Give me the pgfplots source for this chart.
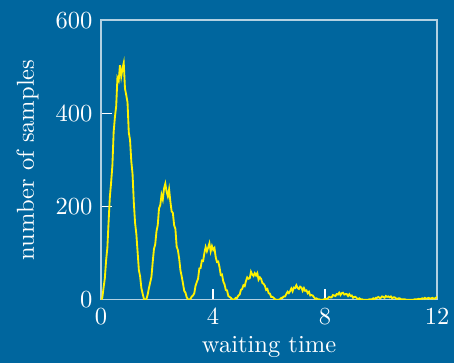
\documentclass[border=0pt]{standalone}
\usepackage{pgfplots}
\pgfplotsset{compat=1.18}
\usetikzlibrary{backgrounds}
\definecolor{bgblue}{RGB}{0,102,158}
\begin{document}
\begin{tikzpicture}
\begin{axis}[name=ax, scale only axis, width=137pt, height=114pt,
 xmin=0,xmax=12,ymin=0,ymax=600,
 xtick={0,4,8,12}, ytick={0,200,400,600},
 xtick pos=bottom, ytick pos=left,
 axis line style={white!70!bgblue, line width=0.6pt},
 major tick style={white, line width=0.6pt},
 tick label style={white},
 label style={white},
 xlabel={waiting time}, ylabel={number of samples},
 xlabel style={yshift=2pt},
]
\addplot[yellow, line width=0.75pt] coordinates {
(0,0) (0.045,4) (0.09,26) (0.135,46) (0.18,84) (0.225,111) (0.27,168) (0.315,221) (0.36,252) (0.405,288) (0.45,360) (0.495,392) (0.54,415) (0.585,476) (0.63,470) (0.675,503) (0.72,479) (0.765,496) (0.81,508) (0.855,453) (0.9,439) (0.945,424) (0.99,359) (1.035,343) (1.08,297) (1.125,270) (1.17,209) (1.215,165) (1.26,141) (1.305,103) (1.35,64) (1.395,50) (1.44,25) (1.485,13) (1.53,2)
(1.575,0) (1.62,1) (1.665,11) (1.71,25) (1.755,37) (1.8,49) (1.845,81) (1.89,109) (1.935,119) (1.98,147) (2.025,160) (2.07,196) (2.115,203) (2.16,225) (2.205,215) (2.25,239) (2.295,249) (2.34,232) (2.385,222) (2.43,237) (2.475,211) (2.52,190) (2.565,186) (2.61,160) (2.655,152) (2.7,114) (2.745,106) (2.79,88) (2.835,63) (2.88,50) (2.925,35) (2.97,19) (3.015,15) (3.06,5) (3.105,1)
(3.15,0) (3.195,2) (3.24,7) (3.285,9) (3.33,14) (3.375,30) (3.42,38) (3.465,45) (3.51,67) (3.555,68) (3.6,84) (3.645,83) (3.69,100) (3.735,113) (3.78,104) (3.825,112) (3.87,121) (3.915,104) (3.96,115) (4.005,107) (4.05,111) (4.095,91) (4.14,81) (4.185,82) (4.23,70) (4.275,53) (4.32,54) (4.365,39) (4.41,33) (4.455,21) (4.5,20) (4.545,8) (4.59,6) (4.635,4) (4.68,1)
(4.725,0) (4.77,1) (4.815,4) (4.86,4) (4.905,9) (4.95,11) (4.995,21) (5.04,23) (5.085,31) (5.13,29) (5.175,40) (5.22,48) (5.265,45) (5.31,46) (5.355,60) (5.4,54) (5.445,51) (5.49,57) (5.535,52) (5.58,57) (5.625,43) (5.67,48) (5.715,45) (5.76,36) (5.805,34) (5.85,30) (5.895,21) (5.94,23) (5.985,14) (6.03,13) (6.075,6) (6.12,6) (6.165,4) (6.21,1) (6.255,0)
(6.3,0) (6.345,0) (6.39,1) (6.435,4) (6.48,4) (6.525,7) (6.57,7) (6.615,12) (6.66,17) (6.705,14) (6.75,18) (6.795,24) (6.84,18) (6.885,26) (6.93,25) (6.975,31) (7.02,25) (7.065,23) (7.11,28) (7.155,26) (7.2,19) (7.245,25) (7.29,19) (7.335,20) (7.38,14) (7.425,17) (7.47,9) (7.515,10) (7.56,9) (7.605,5) (7.65,2) (7.695,3) (7.74,1) (7.785,1) (7.83,0)
(7.875,0) (7.92,0) (7.965,1) (8.01,2) (8.055,1) (8.1,3) (8.145,6) (8.19,5) (8.235,5) (8.28,10) (8.325,9) (8.37,8) (8.415,12) (8.46,11) (8.505,15) (8.55,10) (8.595,14) (8.64,15) (8.685,11) (8.73,12) (8.775,12) (8.82,8) (8.865,12) (8.91,8) (8.955,9) (9.0,4) (9.045,6) (9.09,6) (9.135,3) (9.18,1) (9.225,3) (9.27,1) (9.315,1) (9.36,0) (9.405,0)
(9.45,0) (9.495,0) (9.54,0) (9.585,1) (9.63,1) (9.675,1) (9.72,3) (9.765,1) (9.81,4) (9.855,4) (9.9,6) (9.945,4) (9.99,4) (10.035,7) (10.08,6) (10.125,4) (10.17,8) (10.215,6) (10.26,7) (10.305,5) (10.35,7) (10.395,3) (10.44,5) (10.485,5) (10.53,3) (10.575,1) (10.62,3) (10.665,3) (10.71,1) (10.755,1) (10.8,1) (10.845,1) (10.89,0) (10.935,0) (10.98,0)
(11.025,0) (11.07,0) (11.115,0) (11.16,0) (11.205,1) (11.25,1) (11.295,1) (11.34,2) (11.385,1) (11.43,2) (11.475,3) (11.52,2) (11.565,4) (11.61,2) (11.655,3) (11.7,4) (11.745,2) (11.79,3) (11.835,4) (11.88,2) (11.925,3) (11.97,4) (12,7)
};
\end{axis}
\begin{scope}[on background layer]
\fill[bgblue] ([xshift=-41.2pt,yshift=-25.7pt]ax.south west) rectangle ([xshift=6.9pt,yshift=8.2pt]ax.north east);
\end{scope}
\pgfresetboundingbox
\path ([xshift=-41.2pt,yshift=-25.7pt]ax.south west) rectangle ([xshift=6.9pt,yshift=8.2pt]ax.north east);
\end{tikzpicture}
\end{document}
